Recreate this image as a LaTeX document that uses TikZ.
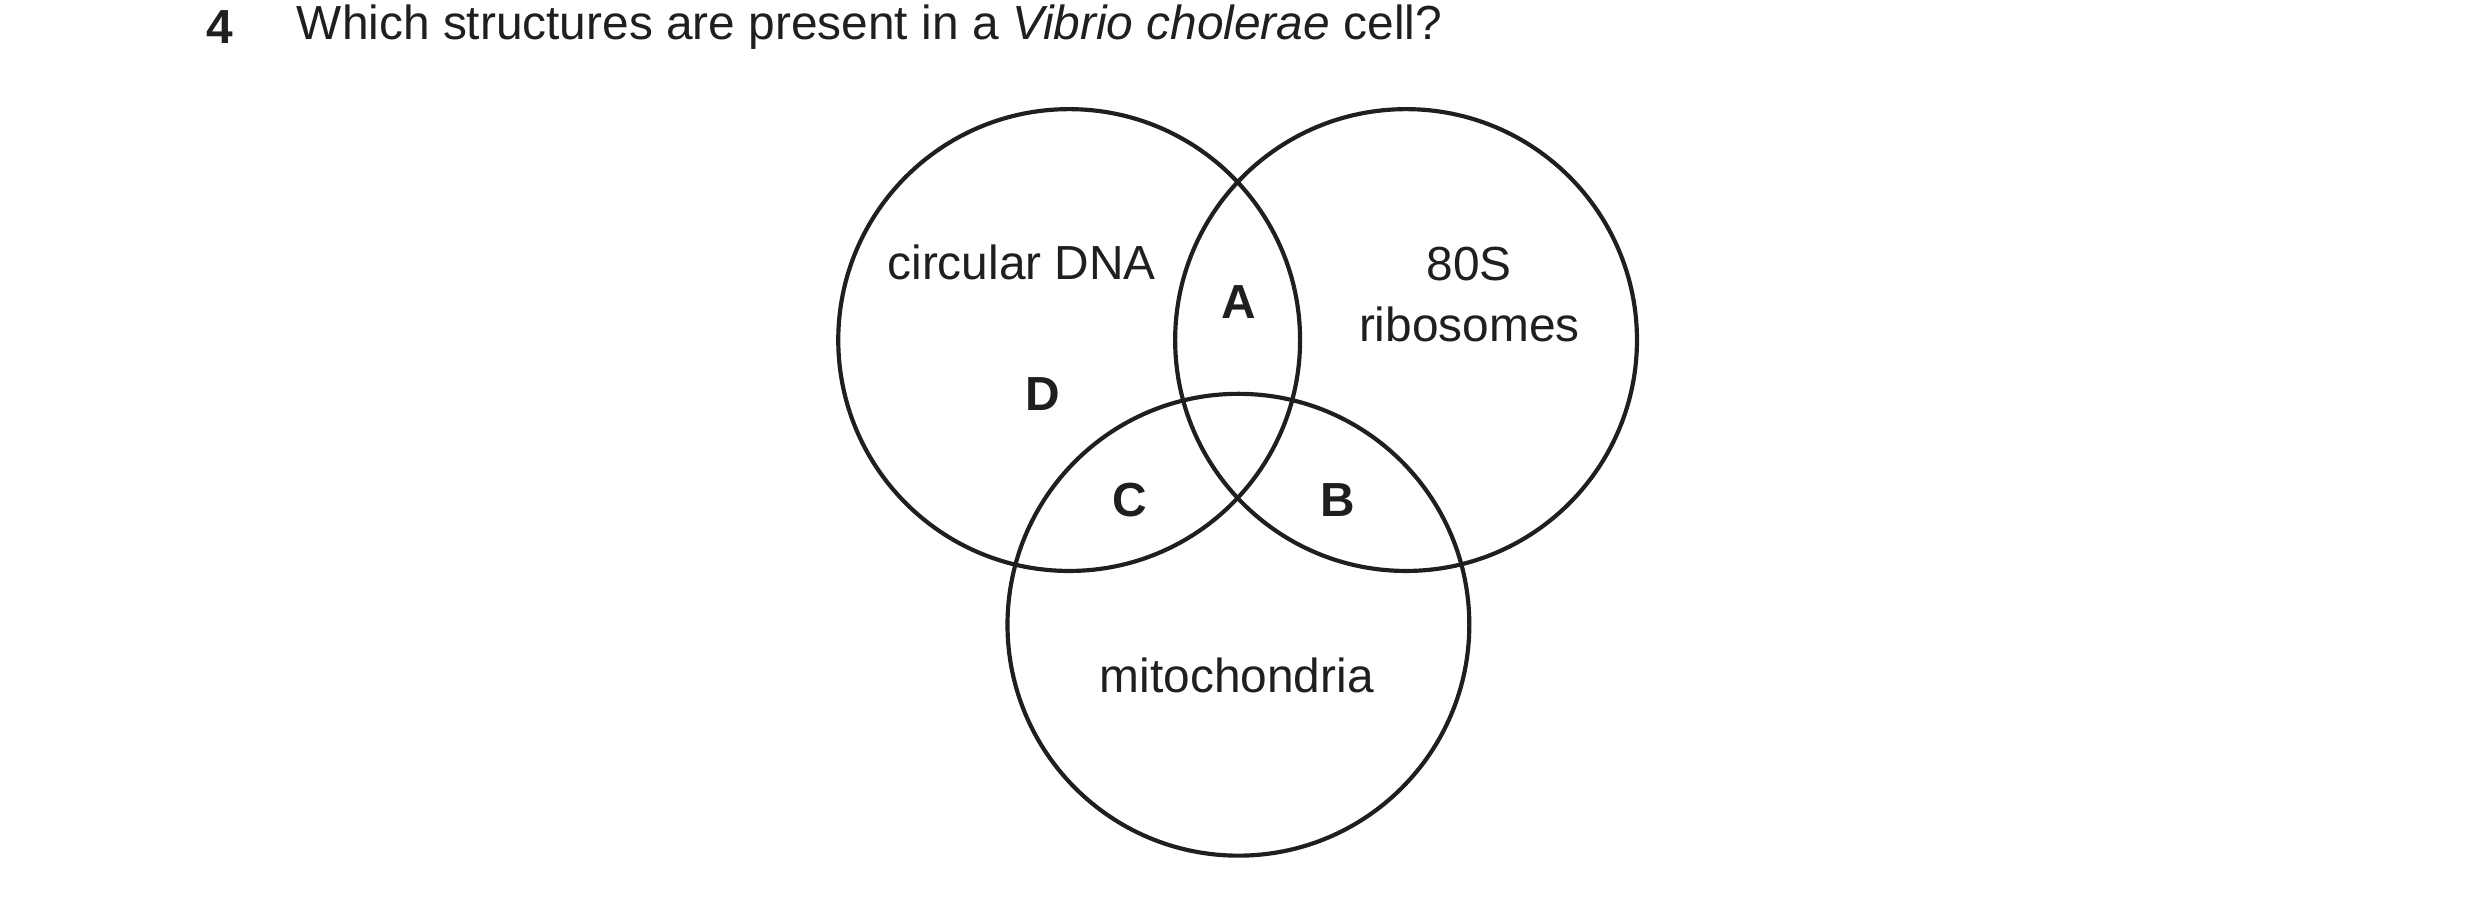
\documentclass[tikz,border=0pt]{standalone}
\usepackage{fontspec}
\setmainfont{Liberation Sans}
\usepackage{tikz}

\tikzset{
    set/.style={draw=black!88, line width=0.75pt},
    txt/.style={font=\fontsize{8.6}{10}\selectfont, text=black!88, align=center, inner sep=0pt},
    lbl/.style={font=\fontsize{8.6}{10}\selectfont\bfseries, text=black!88, inner sep=0pt}
}

\begin{document}
\begin{tikzpicture}[x=0.01cm, y=-0.01cm]
    \useasboundingbox (0,0) rectangle (1568,567);

    \node[lbl, anchor=west] (num) at (130,17) {4};
    \node[txt, anchor=west] (question) at (187,17) {Which structures are present in a \textit{Vibrio cholerae} cell?};

    % the three sets
    \coordinate (cdna) at (676,215);
    \coordinate (ribo) at (889,215);
    \coordinate (mito) at (783,395);
    \draw[set] (cdna) circle (146);
    \draw[set] (ribo) circle (146);
    \draw[set] (mito) circle (146);

    \node[txt] (circ) at (646,166) {circular DNA};
    \node[txt] (s80) at (929,186) {80S\\[1pt]ribosomes};
    \node[txt] (mitoch) at (782,427) {mitochondria};

    \node[lbl] (a) at (783,191) {A};
    \node[lbl] (b) at (846,316) {B};
    \node[lbl] (c) at (714,316) {C};
    \node[lbl] (d) at (659,249) {D};
\end{tikzpicture}
\end{document}
